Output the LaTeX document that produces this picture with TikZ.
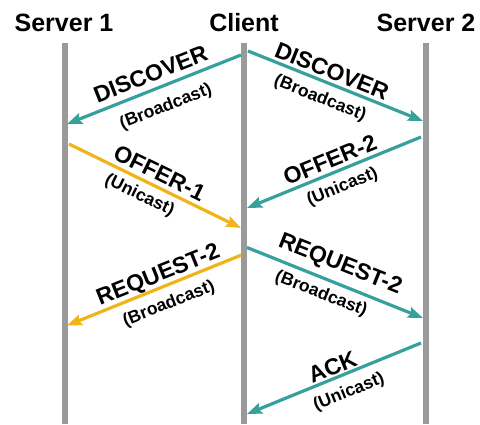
\documentclass[tikz,border=0pt]{standalone}
\usepackage{fontspec}
\setmainfont{Liberation Sans}
\usetikzlibrary{arrows.meta}
\definecolor{teal2}{HTML}{36A09D}
\definecolor{gold2}{HTML}{F0B418}
\definecolor{life}{HTML}{9A9A9A}
\begin{document}
\begin{tikzpicture}[x=1pt,y=-1pt,
  header/.style={font=\fontsize{25}{28}\selectfont\bfseries, inner sep=0pt, anchor=base},
  msgtitle/.style={font=\fontsize{23}{26}\selectfont\bfseries, inner sep=0pt},
  msgsub/.style={font=\fontsize{17.5}{20}\selectfont\bfseries, inner sep=0pt},
  lifeline/.style={draw=life, line width=5.5pt},
  msgarrow/.style={line width=3.2pt, -{Stealth[length=15pt,width=11pt,inset=2.5pt]}},
  tealmsg/.style={msgarrow, draw=teal2, fill=teal2},
  goldmsg/.style={msgarrow, draw=gold2, fill=gold2}]
\useasboundingbox (0,0) rectangle (480,424);
% headers
\node[header] (h1) at (64,31) {Server 1};
\node[header] (hc) at (244,31) {Client};
\node[header] (h2) at (426,31) {Server 2};
% lifelines
\coordinate (s1t) at (65,43);  \coordinate (s1b) at (65,424);
\coordinate (ct)  at (244,43); \coordinate (cb)  at (244,424);
\coordinate (s2t) at (426,43); \coordinate (s2b) at (426,424);
\draw[lifeline] (s1t) -- (s1b);
\draw[lifeline] (ct) -- (cb);
\draw[lifeline] (s2t) -- (s2b);
% arrow end points
\coordinate (a1s) at (241,55);    \coordinate (a1e) at (67,124);
\coordinate (a2s) at (248,51);    \coordinate (a2e) at (423,121);
\coordinate (a3s) at (69,144);    \coordinate (a3e) at (241,228);
\coordinate (a4s) at (421,137);   \coordinate (a4e) at (247,208);
\coordinate (a5s) at (241.5,255); \coordinate (a5e) at (67,325.5);
\coordinate (a6s) at (247,247.5); \coordinate (a6e) at (423,318);
\coordinate (a7s) at (421,343);   \coordinate (a7e) at (247,414);
\draw[tealmsg] (a1s) -- (a1e);
\draw[tealmsg] (a2s) -- (a2e);
\draw[goldmsg] (a3s) -- (a3e);
\draw[tealmsg] (a4s) -- (a4e);
\draw[goldmsg] (a5s) -- (a5e);
\draw[tealmsg] (a6s) -- (a6e);
\draw[tealmsg] (a7s) -- (a7e);
% labels
\node[msgtitle, rotate=21.5] (l1) at (150.5,74) {DISCOVER};
\node[msgsub, rotate=21.5] (l1b) at (166,107) {(Broadcast)};
\node[msgtitle, rotate=-21.8] (l2) at (332,71) {DISCOVER};
\node[msgsub, rotate=-21.8] (l2b) at (320,98.5) {(Broadcast)};
\node[msgtitle, rotate=-26] (l3) at (159.5,173) {OFFER-1};
\node[msgsub, rotate=-26] (l3b) at (139.5,195.5) {(Unicast)};
\node[msgtitle, rotate=22.2] (l4) at (330,160) {OFFER-2};
\node[msgsub, rotate=22.2] (l4b) at (342.5,187) {(Unicast)};
\node[msgtitle, rotate=21.8] (l5) at (158.5,276) {REQUEST-2};
\node[msgsub, rotate=21.8] (l5b) at (169,304) {(Broadcast)};
\node[msgtitle, rotate=-21.6] (l6) at (340,265) {REQUEST-2};
\node[msgsub, rotate=-21.6] (l6b) at (321,294) {(Broadcast)};
\node[msgtitle, rotate=22.2] (l7) at (332.5,367) {ACK};
\node[msgsub, rotate=22.2] (l7b) at (349,392.5) {(Unicast)};
\end{tikzpicture}
\end{document}
